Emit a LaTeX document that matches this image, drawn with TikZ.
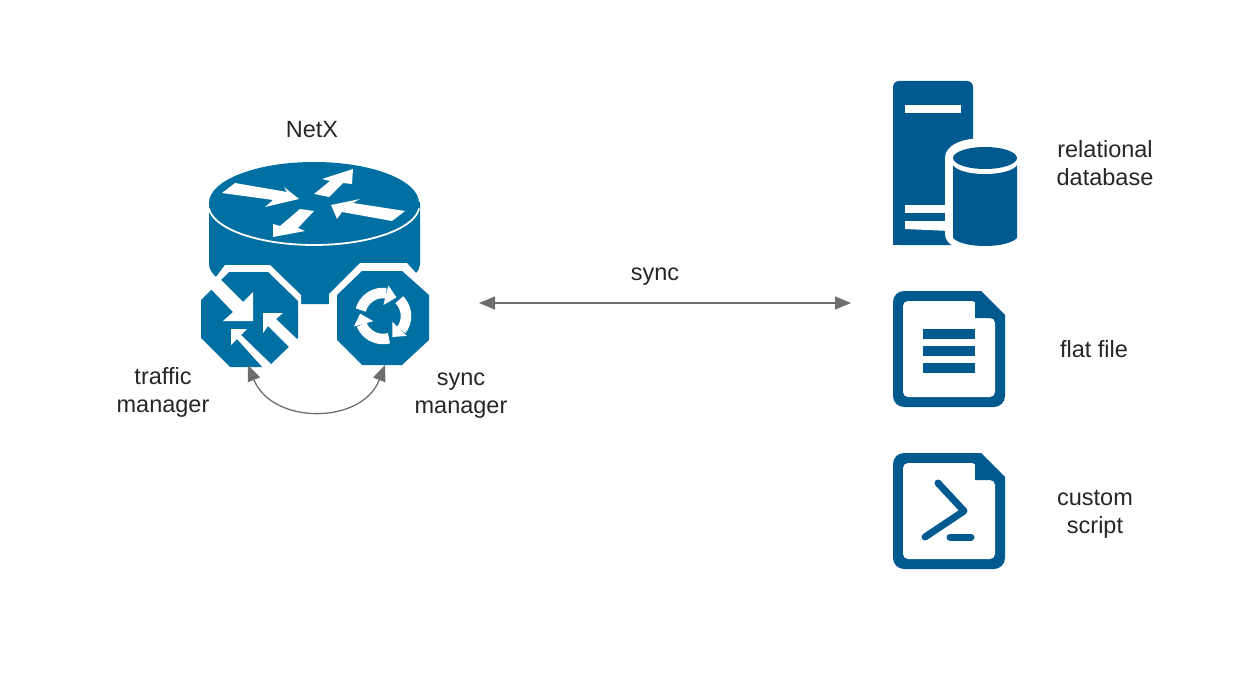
\documentclass[tikz,border=0pt]{standalone}
\usepackage{fontspec}
\setmainfont{Liberation Sans}
\usetikzlibrary{arrows.meta}
\definecolor{routerblue}{HTML}{006FA1}
\definecolor{iconblue}{HTML}{005A8F}
\definecolor{linkgray}{HTML}{6E6E6E}
\tikzset{
    lbl/.style={black!85,align=center,inner sep=0pt,font=\fontsize{23.5}{28}\selectfont},
    link/.style={draw=linkgray,line width=1.3pt,{Triangle[length=16pt,width=13pt]}-{Triangle[length=16pt,width=13pt]}},
    cutout/.style={fill=white,draw=none},
}
\begin{document}
\begin{tikzpicture}[x=1pt,y=-1pt]
        \useasboundingbox (0,0) rectangle (1250,682);
        % router
        \fill[routerblue] (209,202) -- (209,264) .. controls (209,269) and (212,273) .. (216,277) -- (300,304) -- (329,304) -- (416,273) .. controls (419,270) and (420,267) .. (420,264) -- (420,202) -- cycle;
        \fill[routerblue] (314,203) ellipse [x radius=105pt,y radius=41pt];
        \draw[white,line width=1.8pt] plot[smooth,domain=5:175,samples=30] ({314+105.5*cos(\x)},{205+40*sin(\x)});
        \fill[cutout] (225,265) -- (270,265) -- (301,295) -- (301,320) -- (190,320) -- (190,276) -- (216,277) -- cycle;
        \fill[cutout] (360,263) -- (407,263) -- (416,273) -- (440,273) -- (440,320) -- (329,320) -- (329,294) -- cycle;
        \fill[routerblue] (229,272) -- (268,272) -- (298,301) -- (298,338) -- (268,367) -- (230,367) -- (201,338) -- (201,300) -- cycle;
        \fill[routerblue] (362,271) -- (402,271) -- (429,295) -- (429,340) -- (402,365) -- (362,365) -- (337,340) -- (337,295) -- cycle;
        % arrows on the router top
        \fill[white] (222,193) -- (235,183) -- (287,192) -- (284,187) -- (299,199) -- (265,207) -- (273,200) -- cycle;
        \fill[white] (314,194) -- (329,197) -- (343,183) -- (352,184) -- (353,169) -- (322,179) -- (330,181) -- cycle;
        \fill[white] (300,209) -- (314,211) -- (298,228) -- (305,231) -- (273,237) -- (273,224) -- (280,226) -- cycle;
        \fill[white] (405,211) -- (392,221) -- (342,212) -- (337,219) -- (331,205) -- (360,199) -- (353,203) -- cycle;
        % arrows of the traffic manager
        \fill[white] (217,276) -- (243,302) -- (253,292) -- (253,321) -- (223,321) -- (233,312) -- (209,287) -- cycle;
        \fill[white] (263,313) -- (283,313) -- (276,319) -- (298,340) -- (290,348) -- (268,326) -- (263,333) -- cycle;
        \fill[white] (231,329) -- (247,329) -- (241,335) -- (271,364) -- (265,370) -- (237,339) -- (231,345) -- cycle;
        % arrows of the sync manager
        \foreach \a in {0,120,240}{
            \draw[white,line width=10.5pt] plot[smooth,domain=\a+195:\a+278,samples=10] ({383+23*cos(\x)},{316+23*sin(\x)});
            \fill[white] ({383+11*cos(\a+272)},{316+11*sin(\a+272)}) -- ({383+31*cos(\a+280)},{316+31*sin(\a+280)}) -- ({383+23*cos(\a+306)},{316+23*sin(\a+306)}) -- cycle;
        }
        % server with database
        \fill[iconblue,rounded corners=6pt] (893,245) -- (893,81) -- (973,81) -- (973,160) -- (973,245) -- cycle;
        \fill[iconblue] (893,235) rectangle (930,245);
        \fill[white] (905,105) rectangle (961,113);
        \fill[white] (905,205) rectangle (950,213);
        \fill[white] (905,221) -- (950,221) -- (950,231) -- (905,229) -- cycle;
        \fill[white] (953,246) .. controls (948,243) and (945,239) .. (945,234) -- (945,158) .. controls (945,146) and (960,138) .. (985,138) -- (1030,138) -- (1030,246) -- cycle;
        \fill[iconblue] (953,163) -- (953,238) .. controls (958,243) and (970,246) .. (985,246) .. controls (1000,246) and (1012,243) .. (1017,238) -- (1017,163) -- cycle;
        \fill[white] (985,163) ellipse [x radius=32.5pt,y radius=11pt];
        \fill[iconblue] (985,158) ellipse [x radius=32pt,y radius=11pt];
        % flat file and script outlines
        \foreach \dy in {0,162}{
            \begin{scope}[shift={(0,\dy)}]
                \fill[iconblue] (893,350) [rounded corners=11pt] -- (893,291) [sharp corners] -- (981,291) -- (1005,315) [rounded corners=11pt] -- (1005,407) -- (893,407) -- cycle;
                \fill[white,rounded corners=5pt] (903,301) -- (977,301) -- (977,318) -- (995,318) -- (995,397) -- (903,397) -- cycle;
                \fill[iconblue] (975,299) -- (975,318) -- (995,318) -- (995,312) -- (982,299) -- cycle;
            \end{scope}
        }
        \foreach \y in {329,346,363}{
            \fill[iconblue] (923,\y) rectangle (975,\y+10);
        }
        \draw[iconblue,line width=7pt,line cap=round,line join=round] (938,483) -- (964,511) -- (925,537);
        \draw[iconblue,line width=7pt,line cap=round] (950,537) -- (971,537);
        % labels
        \node[lbl](netx)at(312, 130){NetX};
        \node[lbl](traffic)at(163, 392){traffic\\manager};
        \node[lbl](syncman)at(461, 396){sync\\manager};
        \node[lbl](synclbl)at(655, 277){sync};
        \node[lbl](reldb)at(1105, 163){relational\\database};
        \node[lbl](flat)at(1094, 349){flat file};
        \node[lbl](script)at(1095, 514){custom\\script};
        % links
        \coordinate (syncl) at (479, 303);
        \coordinate (syncr) at (851, 303);
        \coordinate (tmend) at (248, 365);
        \coordinate (smend) at (385, 365);
        \draw[link](syncl)--(syncr);
        \draw[link](tmend) .. controls (272, 425) and (362, 425) .. (smend);
    \end{tikzpicture}
\end{document}
